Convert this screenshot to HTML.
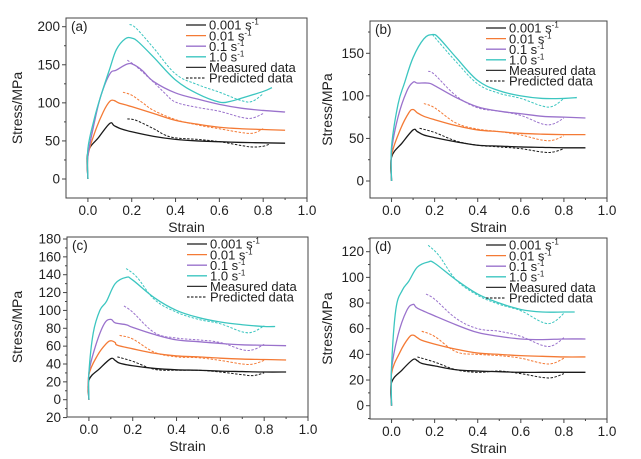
<!DOCTYPE html>
<html><head><meta charset="utf-8">
<style>
html,body{margin:0;padding:0;background:#fff;}
svg{display:block;font-family:"Liberation Sans",Arial,sans-serif;}
</style></head>
<body>
<svg id="fig" width="641" height="459" viewBox="0 0 641 459" xmlns="http://www.w3.org/2000/svg"></svg>
<script>
// ---- data (strain, stress MPa) ----
const rateLabels = ["0.001", "0.01", "0.1", "1.0"];
const panelTags = ["(a)", "(b)", "(c)", "(d)"];
const xTicks = [0.0, 0.2, 0.4, 0.6, 0.8, 1.0];
const yTicksA = [0, 50, 100, 150, 200];
const yTicksB = [0, 50, 100, 150];
const yTicksC = [20, 0, 20, 40, 60, 80, 100, 120, 140, 160, 180];
const yTicksD = [0, 20, 40, 60, 80, 100, 120];

const measuredA = [
 [[0,0],[0,35],[0.05,55],[0.1,73],[0.12,70],[0.15,66],[0.2,62],[0.3,56],[0.4,52],[0.5,50],[0.6,49],[0.7,48],[0.8,47.5],[0.9,47]],
 [[0,0],[0,30],[0.03,60],[0.07,88],[0.1,102],[0.12,103],[0.14,100],[0.2,95],[0.3,86],[0.4,77],[0.5,72],[0.6,68],[0.7,66],[0.8,65],[0.9,64]],
 [[0,0],[0,30],[0.03,75],[0.06,110],[0.1,138],[0.13,143],[0.18,151],[0.21,150],[0.25,142],[0.3,128],[0.4,113],[0.5,105],[0.6,98],[0.7,93],[0.8,90],[0.9,88]],
 [[0,0],[0,40],[0.03,80],[0.06,110],[0.1,145],[0.13,170],[0.17,184],[0.2,185],[0.23,180],[0.3,160],[0.4,130],[0.5,112],[0.6,101],[0.65,102],[0.7,106],[0.8,115],[0.84,120]]
];
const predictedA = [
 [[0.18,79],[0.22,77],[0.3,66],[0.35,58],[0.4,54],[0.5,52],[0.6,49],[0.7,44],[0.75,42],[0.8,43],[0.83,46]],
 [[0.16,114],[0.2,110],[0.25,100],[0.3,90],[0.4,78],[0.5,71],[0.6,66],[0.7,61],[0.75,60],[0.78,63],[0.8,66]],
 [[0.18,156],[0.22,148],[0.3,127],[0.35,113],[0.4,101],[0.5,94],[0.6,89],[0.7,81],[0.75,80],[0.8,86]],
 [[0.19,203],[0.22,198],[0.3,172],[0.4,138],[0.5,124],[0.6,114],[0.7,103],[0.75,102],[0.8,112]]
];
const measuredB = [
 [[0,0],[0,28],[0.05,45],[0.1,60],[0.12,58],[0.15,54],[0.2,51],[0.3,46],[0.4,42],[0.5,41],[0.6,40],[0.7,39.5],[0.8,39],[0.9,39]],
 [[0,0],[0,30],[0.04,60],[0.08,80],[0.1,84],[0.12,80],[0.15,76],[0.2,72],[0.3,65],[0.4,60],[0.5,58],[0.6,56],[0.7,55],[0.8,54.5],[0.9,54.5]],
 [[0,0],[0,35],[0.03,75],[0.07,105],[0.1,116],[0.12,115],[0.17,115],[0.2,112],[0.3,98],[0.4,87],[0.5,82],[0.6,79],[0.7,76],[0.8,75],[0.9,74]],
 [[0,0],[0,40],[0.03,90],[0.06,115],[0.1,145],[0.15,167],[0.19,172],[0.22,168],[0.3,145],[0.4,118],[0.5,106],[0.6,100],[0.7,97],[0.8,97],[0.86,98]]
];
const predictedB = [
 [[0.13,62],[0.2,57],[0.3,47],[0.4,42],[0.5,40],[0.6,38],[0.7,34],[0.75,34],[0.8,38]],
 [[0.15,91],[0.2,86],[0.3,68],[0.4,61],[0.5,58],[0.6,54],[0.7,48],[0.75,48],[0.8,53]],
 [[0.17,129],[0.2,125],[0.3,100],[0.4,86],[0.5,82],[0.6,77],[0.7,67],[0.75,67],[0.8,74]],
 [[0.19,172],[0.22,163],[0.3,140],[0.4,114],[0.5,103],[0.6,97],[0.7,88],[0.75,88],[0.8,97]]
];
const measuredC = [
 [[0,0],[0,22],[0.05,35],[0.1,46],[0.12,44],[0.14,41],[0.2,38],[0.3,35],[0.4,33.5],[0.5,33],[0.6,32],[0.7,31.5],[0.8,31],[0.9,31]],
 [[0,0],[0,28],[0.04,50],[0.08,63],[0.1,66],[0.12,64],[0.13,61],[0.2,57],[0.3,52],[0.4,49],[0.5,48],[0.6,46.5],[0.7,45.5],[0.8,45],[0.9,44.5]],
 [[0,0],[0,30],[0.03,60],[0.07,85],[0.1,90],[0.12,86],[0.17,84],[0.2,81],[0.3,73],[0.4,67],[0.5,65],[0.6,63],[0.7,61.5],[0.8,61],[0.9,60.5]],
 [[0,0],[0,30],[0.02,75],[0.05,100],[0.08,110],[0.12,130],[0.17,137],[0.2,134],[0.3,114],[0.4,100],[0.5,92],[0.6,87],[0.7,84],[0.8,82],[0.85,82]]
];
const predictedC = [
 [[0.13,48],[0.2,43],[0.3,34],[0.4,33],[0.5,33],[0.6,31],[0.7,28],[0.75,27],[0.8,30]],
 [[0.14,72],[0.2,68],[0.3,53],[0.4,48],[0.5,47],[0.6,44],[0.7,40],[0.75,40],[0.8,44]],
 [[0.16,105],[0.2,98],[0.3,75],[0.4,69],[0.5,67],[0.6,64],[0.7,56],[0.75,56],[0.8,62]],
 [[0.17,147],[0.22,137],[0.3,112],[0.4,98],[0.5,90],[0.6,85],[0.7,76],[0.75,76],[0.8,83]]
];
const measuredD = [
 [[0,0],[0,18],[0.05,28],[0.1,36],[0.12,35],[0.14,33],[0.2,31],[0.3,28],[0.4,27],[0.5,26.5],[0.6,26],[0.7,26],[0.8,26],[0.9,26]],
 [[0,0],[0,25],[0.04,42],[0.08,53],[0.1,55],[0.12,53],[0.14,51],[0.2,48],[0.3,44],[0.4,41],[0.5,40],[0.6,39],[0.7,38.5],[0.8,38],[0.9,38]],
 [[0,0],[0,28],[0.03,55],[0.07,74],[0.1,79],[0.12,76],[0.2,70],[0.3,63],[0.4,57],[0.5,54],[0.6,52],[0.7,51.5],[0.8,52],[0.9,52]],
 [[0,0],[0,30],[0.02,75],[0.05,90],[0.08,97],[0.12,108],[0.17,112],[0.2,111],[0.3,98],[0.4,87],[0.5,80],[0.6,75],[0.7,73],[0.8,73],[0.85,73]]
];
const predictedD = [
 [[0.12,38],[0.2,34],[0.3,28],[0.4,26],[0.5,27],[0.6,25],[0.7,22],[0.75,22],[0.8,25]],
 [[0.14,58],[0.2,54],[0.3,42],[0.4,40],[0.5,39],[0.6,37],[0.7,33],[0.75,33],[0.8,37]],
 [[0.16,87],[0.2,83],[0.3,68],[0.4,60],[0.5,58],[0.6,54],[0.7,47],[0.75,47],[0.8,53]],
 [[0.17,125],[0.22,117],[0.3,98],[0.4,86],[0.5,79],[0.6,74],[0.7,65],[0.75,65],[0.8,72]]
];

// ---- layout ----
const colors = ["#1a1a1a", "#f47a35", "#9a72cc", "#3cc6c0"];
const panels = [
 {tag:0, meas:measuredA, pred:predictedA, ticks:yTicksA, L:66, R:307, T:18, B:198, y0:179, yRef:200, yRefPx:26.7, ylabX:22},
 {tag:1, meas:measuredB, pred:predictedB, ticks:yTicksB, L:370, R:607, T:21, B:198, y0:181, yRef:150, yRefPx:53.3, ylabX:332},
 {tag:2, meas:measuredC, pred:predictedC, ticks:yTicksC, L:67, R:308, T:237, B:417, y0:399.7, yRef:180, yRefPx:239, ylabX:22},
 {tag:3, meas:measuredD, pred:predictedD, ticks:yTicksD, L:370, R:607, T:238, B:419, y0:405.7, yRef:120, yRefPx:251.7, ylabX:332}
];
const NS = "http://www.w3.org/2000/svg";
const svg = document.getElementById("fig");
function mk(tag, attrs, parent){
  const e = document.createElementNS(NS, tag);
  for (const k in attrs) e.setAttribute(k, attrs[k]);
  (parent||svg).appendChild(e);
  return e;
}
function smoothPath(pts){
  if (pts.length < 2) return "";
  let d = "M" + pts[0][0].toFixed(2) + "," + pts[0][1].toFixed(2);
  for (let i = 0; i < pts.length - 1; i++){
    const p0 = pts[i-1] || pts[i], p1 = pts[i], p2 = pts[i+1], p3 = pts[i+2] || p2;
    const t = 0.18;
    const c1 = [p1[0] + (p2[0]-p0[0])*t, p1[1] + (p2[1]-p0[1])*t];
    const c2 = [p2[0] - (p3[0]-p1[0])*t, p2[1] - (p3[1]-p1[1])*t];
    d += " C" + c1[0].toFixed(2)+","+c1[1].toFixed(2)+" "+c2[0].toFixed(2)+","+c2[1].toFixed(2)+" "+p2[0].toFixed(2)+","+p2[1].toFixed(2);
  }
  return d;
}

panels.forEach((p, pi) => {
  const g = mk("g", {});
  
  
  const xs = v => p.L + (v + 0.1) / 1.1 * (p.R - p.L);
  const ys = v => p.y0 - v * (p.y0 - p.yRefPx) / p.yRef;

  const fr = mk("rect", {x:p.L, y:p.T, width:p.R-p.L, height:p.B-p.T, fill:"none", stroke:"#444", "stroke-width":1}, g);
  
  

  xTicks.forEach(v => {
    const x = xs(v);
    mk("line", {x1:x, x2:x, y1:p.B, y2:p.B+4, stroke:"#444"}, g);
    const mx = xs(v + 0.1);
    if (v < 1.0) mk("line", {x1:mx, x2:mx, y1:p.B, y2:p.B+2, stroke:"#444"}, g);
    const t = mk("text", {x:x, y:p.B+17, "font-size":13.5, "text-anchor":"middle", fill:"#222"}, g);
    t.textContent = v.toFixed(1);
    
    
  });

  p.ticks.forEach((v, i) => {
    const val = (pi === 2 && i === 0) ? -20 : v;
    const y = ys(val);
    mk("line", {x1:p.L-4, x2:p.L, y1:y, y2:y, stroke:"#444"}, g);
    const t = mk("text", {x:p.L-6, y:y+4.5, "font-size":13.5, "text-anchor":"end", fill:"#222"}, g);
    t.textContent = String(v);
    
    
  });
  const step = p.ticks[p.ticks.length-1] - p.ticks[p.ticks.length-2];
  for (let v = (pi===2?-20:0) - step; v <= p.ticks[p.ticks.length-1] + step; v += step){
    const y = ys(v + step/2);
    if (y > p.T && y < p.B) mk("line", {x1:p.L-2, x2:p.L, y1:y, y2:y, stroke:"#444"}, g);
  }

  const xl = mk("text", {x:(p.L+p.R)/2, y:p.B+34, "font-size":14, "text-anchor":"middle", fill:"#222"}, g);
  xl.textContent = "Strain";
  
  
  const cy = (p.T+p.B)/2;
  const yl = mk("text", {x:p.ylabX, y:cy, "font-size":14, "text-anchor":"middle", fill:"#222", transform:"rotate(-90 "+p.ylabX+" "+cy+")"}, g);
  yl.textContent = "Stress/MPa";
  
  

  const tg = mk("text", {x:p.L+5, y:p.T+13, "font-size":13.5, fill:"#222"}, g);
  tg.textContent = panelTags[p.tag];
  
  

  for (let s = 0; s < 4; s++){
    const mp = mk("path", {d:smoothPath(p.meas[s].map(q => [xs(q[0]), ys(q[1])])), fill:"none", stroke:colors[s], "stroke-width":1.3}, g);
    
    
    const pp = mk("path", {d:smoothPath(p.pred[s].map(q => [xs(q[0]), ys(q[1])])), fill:"none", stroke:colors[s], "stroke-width":1, "stroke-dasharray":"2.5,1.5"}, g);
    
    
  }

  const lx = p.R - 121, ly = p.T + 7;
  const lg = mk("g", {}, g);
  
  
  const items = rateLabels.map((r, i) => ({label:r, color:colors[i], dash:null, sup:true}))
    .concat([{label:"Measured data", color:"#333", dash:null}, {label:"Predicted data", color:"#333", dash:"2.5,1.5"}]);
  items.forEach((it, i) => {
    const y = ly + i * 10.6;
    const ln = mk("line", {x1:lx, x2:lx+20, y1:y, y2:y, stroke:it.color, "stroke-width":1.3}, lg);
    if (it.dash) ln.setAttribute("stroke-dasharray", it.dash);
    const t = mk("text", {x:lx+23, y:y+4.7, "font-size":13, fill:"#222"}, lg);
    
    
    if (it.sup){
      t.appendChild(document.createTextNode(it.label + " s"));
      const sp = mk("tspan", {"font-size":8, dy:-5}, t);
      sp.textContent = "-1";
    } else t.textContent = it.label;
  });
});
</script>
</body></html>
